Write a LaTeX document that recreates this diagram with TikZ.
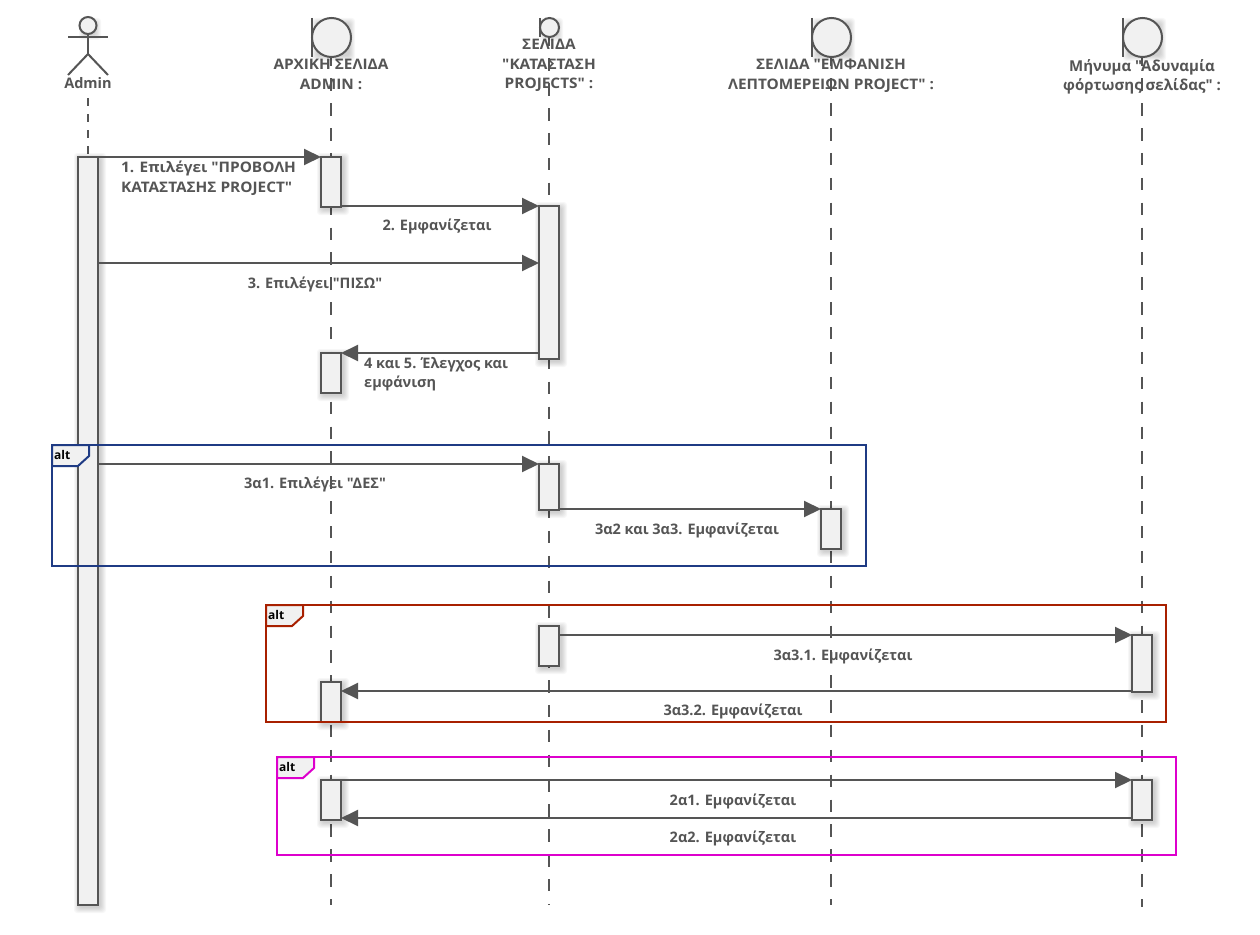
\documentclass[tikz,border=0pt]{standalone}
\usepackage{fontspec}
\newfontfamily\lblfont{Open Sans}
\newfontfamily\capsfont[FakeStretch=1.06]{Open Sans}
\usetikzlibrary{arrows.meta,calc}
\definecolor{ink}{HTML}{555555}
\definecolor{barfill}{HTML}{F1F1F1}
\definecolor{fblue}{HTML}{1F3B84}
\definecolor{fred}{HTML}{A82000}
\definecolor{fmag}{HTML}{DD00CC}
\tikzset{
  x=1pt,y=-1pt,
  msg/.style={draw=ink,line width=2pt,-{Triangle[length=17pt,width=16pt]}},
  lifeln/.style={draw=ink,line width=2pt,dash pattern=on 12.4pt off 12.47pt},
  adminln/.style={draw=ink,line width=2pt,dash pattern=on 8pt off 8pt},
  actbox/.style={draw=ink,line width=2pt,fill=barfill,rectangle,inner sep=0pt,outer sep=0pt,minimum width=20pt},
  lbl/.style={text=ink,font=\lblfont\fontsize{14.5}{19.5}\selectfont\bfseries,inner sep=0pt,align=center},
  capslbl/.style={lbl,font=\capsfont\fontsize{14.5}{19.5}\selectfont\bfseries},
  lblleft/.style={lbl,align=left,anchor=north west},
  figure/.style={draw=ink,line width=2pt},
  frameline/.style={line width=2pt},
  alttext/.style={text=black,font=\lblfont\fontsize{12}{14}\selectfont\bfseries,inner sep=0pt,anchor=west},
}
\newcommand{\softshadow}[4]{% x1 y1 x2 y2
  \foreach \s in {6,5,4,3,2,1}{
    \fill[black,opacity=0.03,rounded corners=3pt] (#1+2-\s,#2+2-\s) rectangle (#3+2+\s,#4+2+\s);
  }}
\newcommand{\actbar}[4]{% name, x, top, bottom
  \softshadow{#2-10}{#3}{#2+10}{#4}
  \node[actbox,minimum height=#4pt-#3pt] (#1) at (#2,{(#3+#4)/2}) {};
}
\newcommand{\altframe}[6]{% colour x1 y1 x2 y2 labelname
  \draw[frameline,draw=#1] (#2,#3) rectangle (#4,#5);
  \fill[barfill] (#2,#3) -- (#2+37,#3) -- (#2+37,#3+11) -- (#2+26,#3+21) -- (#2,#3+21) -- cycle;
  \draw[frameline,draw=#1] (#2,#3) -- (#2+37,#3) -- (#2+37,#3+11) -- (#2+26,#3+21) -- (#2,#3+21) -- cycle;
  \node[alttext] (#6) at (#2+2,#3+9.5) {alt};
}
\newcommand{\boundary}[4]{% name x y-centre r
  \softshadow{#2-#4+4}{#3-#4+4}{#2+#4-4}{#3+#4-4}
  \node[figure,fill=barfill,circle,minimum size=2*#4 pt,inner sep=0pt,outer sep=0pt] (#1) at (#2,#3) {};
  \draw[figure] (#2-#4,#3-#4) -- (#2-#4,#3+#4);
}
\begin{document}
\begin{tikzpicture}
\useasboundingbox (0,0) rectangle (1260,934);
\fill[white] (0,0) rectangle (1260,934);

% header labels
\node[lbl] (hadmin) at (88,83) {Admin};
\node[capslbl,anchor=north] (h1) at (331,59) {ΑΡΧΙΚΗ ΣΕΛΙΔΑ\\ADMIN :};
\node[capslbl,anchor=north] (h2) at (549,39) {ΣΕΛΙΔΑ\\"ΚΑΤΑΣΤΑΣΗ\\PROJECTS" :};
\node[capslbl,anchor=north] (h3) at (831,59) {ΣΕΛΙΔΑ "ΕΜΦΑΝΙΣΗ\\ΛΕΠΤΟΜΕΡΕΙΩΝ PROJECT" :};
\node[lbl,font=\lblfont\fontsize{15}{19.5}\selectfont\bfseries,anchor=north] (h4) at (1142,59) {Μήνυμα "Αδυναμία\\φόρτωσης σελίδας" :};

% lifelines
\coordinate (s0) at (88,98);    \coordinate (e0) at (88,157);
\coordinate (s1) at (331,53.5); \coordinate (e1) at (331,905);
\coordinate (s2) at (549,33.5); \coordinate (e2) at (549,905);
\coordinate (s3) at (831,53.5); \coordinate (e3) at (831,905);
\coordinate (s4) at (1142,53.5);\coordinate (e4) at (1142,907);
\draw[adminln] (s0) -- (e0);
\draw[lifeln] (s1) -- (e1);
\draw[lifeln] (s2) -- (e2);
\draw[lifeln] (s3) -- (e3);
\draw[lifeln] (s4) -- (e4);

% actor
\softshadow{83}{22}{93}{32}
\node[figure,fill=barfill,circle,minimum size=17pt,inner sep=0pt,outer sep=0pt] (head) at (88,25.5) {};
\coordinate (hip) at (88,54);
\coordinate (armL) at (68,37);
\coordinate (armR) at (108,37);
\coordinate (legL) at (68,75);
\coordinate (legR) at (108,75);
\draw[figure] (head.south) -- (hip);
\draw[figure] (armL) -- (armR);
\draw[figure] (legL) -- (hip) -- (legR);

% boundary icons
\boundary{b1}{331.5}{37.5}{19.5}
\boundary{b2}{549.5}{27.5}{9.5}
\boundary{b3}{831.5}{37.5}{19.5}
\boundary{b4}{1142.5}{37.5}{19.5}

% activation bars
\actbar{adm}{88}{157}{905}
\actbar{a1}{331}{157}{207}
\actbar{a2}{331}{353}{393}
\actbar{a3}{331}{682}{722}
\actbar{a4}{331}{780}{820}
\actbar{p1}{549}{206}{359}
\actbar{p2}{549}{464}{510}
\actbar{p3}{549}{626}{666}
\actbar{d1}{831}{509}{549}
\actbar{m1}{1142}{635}{692}
\actbar{m2}{1142}{780}{820}

% messages
\coordinate (y3) at (0,263);
\coordinate (y33) at (0,691);
\coordinate (y21) at (0,818);
\draw[msg] (adm.north east) -- (a1.north west);
\draw[msg] (a1.east |- p1.north) -- (p1.north west);
\draw[msg] (adm.east |- y3) -- (p1.west |- y3);
\draw[msg] (p1.west |- a2.north) -- (a2.north east);
\draw[msg] (adm.east |- p2.north) -- (p2.north west);
\draw[msg] (p2.east |- d1.north) -- (d1.north west);
\draw[msg] (p3.east |- m1.north) -- (m1.north west);
\draw[msg] (m1.west |- y33) -- (a3.east |- y33);
\draw[msg] (a4.north east) -- (m2.north west);
\draw[msg] (m2.west |- y21) -- (a4.east |- y21);

% message labels
\node[capslbl,align=left,anchor=north west] (t1) at (121,161) {1. Επιλέγει "ΠΡΟΒΟΛΗ\\ΚΑΤΑΣΤΑΣΗΣ PROJECT"};
\node[lbl] (t2) at (437,226) {2. Εμφανίζεται};
\node[lbl] (t3) at (315,284) {3. Επιλέγει "ΠΙΣΩ"};
\node[lblleft] (t4) at (364,357) {4 και 5. Έλεγχος και\\εμφάνιση};
\node[lbl] (t5) at (315,484) {3α1. Επιλέγει "ΔΕΣ"};
\node[lbl] (t6) at (687,530) {3α2 και 3α3. Εμφανίζεται};
\node[lbl] (t7) at (843,656) {3α3.1. Εμφανίζεται};
\node[lbl] (t8) at (733,711) {3α3.2. Εμφανίζεται};
\node[lbl] (t9) at (733,801) {2α1. Εμφανίζεται};
\node[lbl] (t10) at (733,838) {2α2. Εμφανίζεται};

% alt frames
\altframe{fblue}{52}{445}{866}{566}{alt1}
\altframe{fred}{266}{605}{1166}{722}{alt2}
\altframe{fmag}{277}{757}{1176}{855}{alt3}
\end{tikzpicture}
\end{document}
